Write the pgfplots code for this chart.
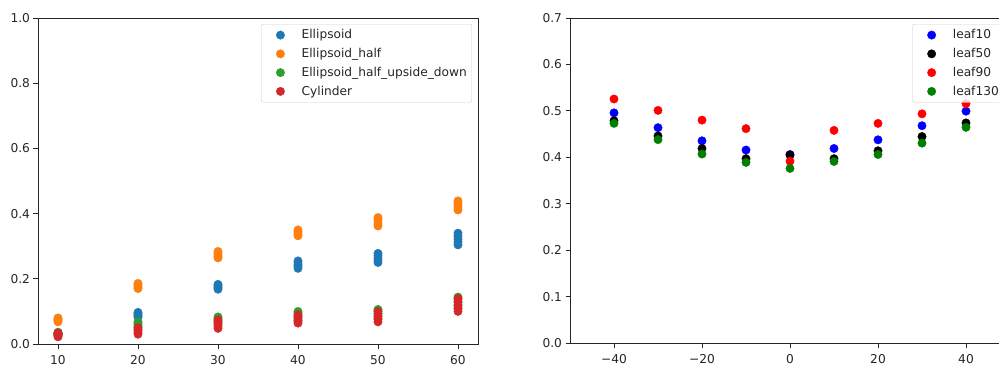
\documentclass[border=0pt]{standalone}
\usepackage{pgfplots}
\pgfplotsset{compat=1.18}
\usepackage{fontspec}
\setmainfont{DejaVu Sans}
\definecolor{c0}{HTML}{1F77B4}
\definecolor{c1}{HTML}{FF7F0E}
\definecolor{c2}{HTML}{2CA02C}
\definecolor{c3}{HTML}{D62728}
\definecolor{pblue}{RGB}{0,0,255}
\definecolor{pred}{RGB}{255,0,0}
\definecolor{pgreen}{RGB}{0,128,0}
\definecolor{spine}{gray}{0.15}
\pgfplotsset{
  mpl/.style={
    scale only axis, anchor=south west,
    axis line style={line width=0.9pt, spine},
    tick pos=left, tick align=outside, major tick length=4.5pt,
    every tick/.style={line width=0.9pt, spine},
    ticklabel style={font=\fontsize{12.2pt}{14pt}\selectfont, text=spine},
    xticklabel style={yshift=-3pt},
    legend cell align=left,
    legend style={at={(1,1)}, anchor=north east, xshift=-6pt, yshift=-6pt,
      draw=black!20, rounded corners=2pt, fill=white, fill opacity=0.8, draw opacity=1, text opacity=1,
      font=\fontsize{12.2pt}{14pt}\selectfont, text=spine,
      inner xsep=3pt, inner ysep=3.5pt, row sep=4pt},
    legend image code/.code={\path (0pt,0pt) (35pt,0pt); \draw[##1, opacity=1] plot coordinates {(16pt,0pt)};},
  },
  sc/.style={only marks, mark=*, mark size=4.2pt, color=#1, mark options={draw=#1, fill=#1}},
}
\begin{document}
\begin{tikzpicture}
\begin{axis}[mpl, at={(38pt,21pt)}, width=440pt, height=326pt,
  xmin=7.5, xmax=62.5, ymin=0, ymax=1,
  xtick={10,20,30,40,50,60}, xticklabels={10,20,30,40,50,60},
  ytick={0,0.2,0.4,0.6,0.8,1}, yticklabels={0.0,0.2,0.4,0.6,0.8,1.0}]
\addplot[sc=c0] coordinates {
 (10,0.028) (10,0.030) (10,0.032) (10,0.034)
 (20,0.082) (20,0.086) (20,0.089) (20,0.093) (20,0.097)
 (30,0.168) (30,0.172) (30,0.175) (30,0.179) (30,0.183)
 (40,0.232) (40,0.238) (40,0.243) (40,0.249) (40,0.255)
 (50,0.250) (50,0.257) (50,0.264) (50,0.271) (50,0.278)
 (60,0.304) (60,0.313) (60,0.322) (60,0.331) (60,0.340)};
\addlegendentry{Ellipsoid}
\addplot[sc=c1] coordinates {
 (10,0.068) (10,0.071) (10,0.074) (10,0.077) (10,0.080)
 (20,0.170) (20,0.174) (20,0.178) (20,0.182) (20,0.186)
 (30,0.264) (30,0.269) (30,0.274) (30,0.279) (30,0.284)
 (40,0.332) (40,0.336) (40,0.341) (40,0.346) (40,0.350)
 (50,0.362) (50,0.368) (50,0.375) (50,0.382) (50,0.388)
 (60,0.411) (60,0.418) (60,0.425) (60,0.432) (60,0.439)};
\addlegendentry{Ellipsoid\_half}
\addplot[sc=c2] coordinates {
 (10,0.028) (10,0.031) (10,0.034) (10,0.036)
 (20,0.045) (20,0.052) (20,0.058) (20,0.064) (20,0.068)
 (30,0.060) (30,0.067) (30,0.073) (30,0.079) (30,0.083)
 (40,0.072) (40,0.080) (40,0.088) (40,0.095) (40,0.100)
 (50,0.078) (50,0.086) (50,0.094) (50,0.101) (50,0.106)
 (60,0.108) (60,0.118) (60,0.128) (60,0.137) (60,0.144)};
\addlegendentry{Ellipsoid\_half\_upside\_down}
\addplot[sc=c3] coordinates {
 (10,0.022) (10,0.025) (10,0.028) (10,0.031) (10,0.034)
 (20,0.030) (20,0.035) (20,0.040) (20,0.045) (20,0.050)
 (30,0.048) (30,0.054) (30,0.061) (30,0.068) (30,0.074)
 (40,0.064) (40,0.070) (40,0.077) (40,0.084) (40,0.090)
 (50,0.068) (50,0.076) (50,0.084) (50,0.092) (50,0.100)
 (60,0.100) (60,0.110) (60,0.120) (60,0.130) (60,0.140)};
\addlegendentry{Cylinder}
\end{axis}
\begin{axis}[mpl, at={(570pt,22pt)}, width=440pt, height=325pt,
  xmin=-50, xmax=50, ymin=0, ymax=0.7,
  xtick={-40,-20,0,20,40}, xticklabels={−40,−20,0,20,40},
  ytick={0,0.1,0.2,0.3,0.4,0.5,0.6,0.7}, yticklabels={0.0,0.1,0.2,0.3,0.4,0.5,0.6,0.7}]
\addplot[sc=pblue] coordinates {(-40,0.4957) (-30,0.4638) (-20,0.4355) (-10,0.4156) (0,0.406) (10,0.419) (20,0.4376) (30,0.468) (40,0.4993)};
\addlegendentry{leaf10}
\addplot[sc=black] coordinates {(-40,0.4787) (-30,0.446) (-20,0.419) (-10,0.397) (0,0.405) (10,0.397) (20,0.414) (30,0.4447) (40,0.474)};
\addlegendentry{leaf50}
\addplot[sc=pred] coordinates {(-40,0.5255) (-30,0.501) (-20,0.480) (-10,0.4617) (0,0.3915) (10,0.458) (20,0.473) (30,0.4936) (40,0.5156)};
\addlegendentry{leaf90}
\addplot[sc=pgreen] coordinates {(-40,0.473) (-30,0.438) (-20,0.407) (-10,0.389) (0,0.376) (10,0.391) (20,0.406) (30,0.4305) (40,0.4645)};
\addlegendentry{leaf130}
\end{axis}
\pgfresetboundingbox
\path (0,0) rectangle (999pt,365pt);
\end{tikzpicture}
\end{document}
